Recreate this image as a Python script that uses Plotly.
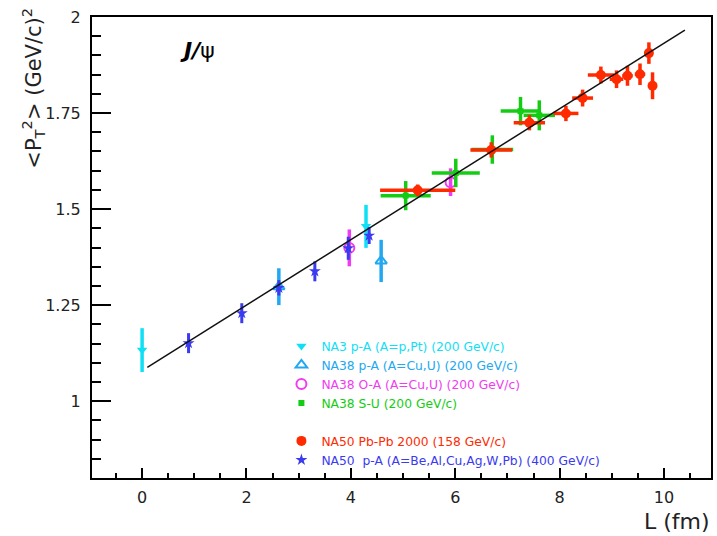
import plotly.graph_objects as go

# ---------------- data ----------------
# NA3 p-A (A=p,Pt) 200 GeV/c
na3_x = [0.0, 4.29]
na3_y = [1.133, 1.455]
na3_ey = [0.057, 0.056]

# NA38 p-A (A=Cu,U) 200 GeV/c
na38pa_x = [2.62, 4.58]
na38pa_y = [1.298, 1.365]
na38pa_ey = [0.048, 0.055]

# NA38 O-A (A=Cu,U) 200 GeV/c
na38oa_x = [3.97, 5.91]
na38oa_y = [1.399, 1.570]
na38oa_ey = [0.048, 0.036]

# NA38 S-U 200 GeV/c
na38su_x = [5.05, 6.01, 6.71, 7.25, 7.61]
na38su_y = [1.535, 1.594, 1.655, 1.755, 1.744]
na38su_ex = [0.48, 0.46, 0.40, 0.38, 0.30]
na38su_ey = [0.038, 0.037, 0.037, 0.037, 0.039]

# NA50 Pb-Pb 2000 158 GeV/c
na50pb_x = [5.28, 6.69, 7.42, 8.12, 8.44, 8.79, 9.09, 9.30, 9.54, 9.71, 9.78]
na50pb_y = [1.549, 1.654, 1.725, 1.749, 1.789, 1.849, 1.838, 1.847, 1.851, 1.906, 1.821]
na50pb_ex = [0.72, 0.40, 0.30, 0.24, 0.20, 0.25, 0.13, 0.10, 0.10, 0.05, 0.05]
na50pb_ey = [0.015, 0.020, 0.020, 0.020, 0.022, 0.022, 0.023, 0.026, 0.028, 0.028, 0.035]

# NA50 p-A (A=Be,Al,Cu,Ag,W,Pb) 400 GeV/c
na50pa_x = [0.89, 1.91, 2.62, 3.31, 3.95, 4.35]
na50pa_y = [1.151, 1.229, 1.295, 1.338, 1.398, 1.431]
na50pa_ey = [0.026, 0.026, 0.020, 0.026, 0.030, 0.022]

# linear fit line end points
fit_x = [0.1, 10.4]
fit_y = [1.088, 1.966]

# axis ticks
x_ticks = [0, 2, 4, 6, 8, 10]
y_ticks = [1.0, 1.25, 1.5, 1.75, 2.0]
y_tick_text = ["1", "1.25", "1.5", "1.75", "2"]

# ---------------- figure ----------------
C_NA3 = "#10e0f5"
C_NA38PA = "#22a8f0"
C_NA38OA = "#f03cf0"
C_NA38SU = "#14cc14"
C_NA50PB = "#ff2a00"
C_NA50PA = "#3a3af0"

fig = go.Figure()


def add(label, x, y, ey, color, symbol, size, group, ex=None, open_=False, bw=3.5):
    marker = dict(symbol=symbol, size=size, color=color)
    if open_:
        marker["line"] = dict(color=color, width=2)
    tr = dict(
        x=x, y=y, mode="markers",
        name=f'<span style="color:{color}">{label}</span>',
        marker=marker,
        legendgroup=group,
        error_y=dict(type="data", array=ey, color=color, thickness=bw, width=0),
    )
    if ex is not None:
        tr["error_x"] = dict(type="data", array=ex, color=color, thickness=bw, width=0)
    fig.add_trace(go.Scatter(**tr))


add("NA3 p-A (A=p,Pt) (200 GeV/c)", na3_x, na3_y, na3_ey, C_NA3,
    "triangle-down", 9, "a")
add("NA38 p-A (A=Cu,U) (200 GeV/c)", na38pa_x, na38pa_y, na38pa_ey, C_NA38PA,
    "triangle-up-open", 10, "a", open_=True)
add("NA38 O-A (A=Cu,U) (200 GeV/c)", na38oa_x, na38oa_y, na38oa_ey, C_NA38OA,
    "circle-open", 10, "a", open_=True)
add("NA38 S-U (200 GeV/c)", na38su_x, na38su_y, na38su_ey, C_NA38SU,
    "square", 6, "a", ex=na38su_ex)
add("NA50 Pb-Pb 2000 (158 GeV/c)", na50pb_x, na50pb_y, na50pb_ey, C_NA50PB,
    "circle", 10, "b", ex=na50pb_ex)
add("NA50  p-A (A=Be,Al,Cu,Ag,W,Pb) (400 GeV/c)", na50pa_x, na50pa_y, na50pa_ey, C_NA50PA,
    "star", 9, "b", bw=3)

fig.add_trace(go.Scatter(x=fit_x, y=fit_y, mode="lines",
                         line=dict(color="#111111", width=1.5),
                         showlegend=False, hoverinfo="skip"))

tickfont = dict(family="DejaVu Sans", size=16, color="#222222")

fig.update_layout(
    width=717, height=536, autosize=False,
    margin=dict(l=92, r=4, t=17, b=58),
    paper_bgcolor="white", plot_bgcolor="white",
    showlegend=True,
    legend=dict(
        x=0.306, y=0.318, xanchor="left", yanchor="top",
        bgcolor="rgba(0,0,0,0)", borderwidth=0,
        font=dict(family="DejaVu Sans", size=12.3),
        traceorder="grouped", tracegroupgap=19,
        itemwidth=30,
    ),
    xaxis=dict(
        range=[-0.96, 10.9],
        tickmode="array", tickvals=x_ticks,
        ticks="inside", ticklen=10, tickwidth=2, tickcolor="black",
        minor=dict(tick0=0, dtick=0.5, ticks="inside", ticklen=5, tickwidth=1.5, tickcolor="black"),
        showline=True, linewidth=2, linecolor="black", mirror=True,
        showgrid=False, zeroline=False,
        tickfont=tickfont, ticklabelstandoff=4,
    ),
    yaxis=dict(
        range=[0.8, 2.0],
        tickmode="array", tickvals=y_ticks, ticktext=y_tick_text,
        ticks="inside", ticklen=19, tickwidth=2, tickcolor="black",
        minor=dict(tick0=0, dtick=0.05, ticks="inside", ticklen=9, tickwidth=1.5, tickcolor="black"),
        showline=True, linewidth=2, linecolor="black", mirror=True,
        showgrid=False, zeroline=False,
        tickfont=tickfont, ticklabelstandoff=6,
    ),
    annotations=[
        dict(text="<b><i>J/</i></b>ψ", xref="paper", yref="paper",
             x=0.171, y=0.928, xanchor="center", yanchor="middle",
             showarrow=False, font=dict(family="DejaVu Sans", size=22, color="black")),
        dict(text="L (fm)", xref="paper", yref="paper",
             x=1.002, y=-0.095, xanchor="right", yanchor="middle",
             showarrow=False, font=dict(family="DejaVu Sans", size=22, color="#222222")),
        dict(text="&lt;P<sub>T</sub><sup>2</sup>&gt; (GeV/c)<sup>2</sup>",
             xref="paper", yref="paper", x=-0.095, y=0.845,
             xanchor="center", yanchor="middle", textangle=-90,
             showarrow=False, font=dict(family="DejaVu Sans", size=21, color="#222222")),
    ],
)

fig.write_html("out.html")
